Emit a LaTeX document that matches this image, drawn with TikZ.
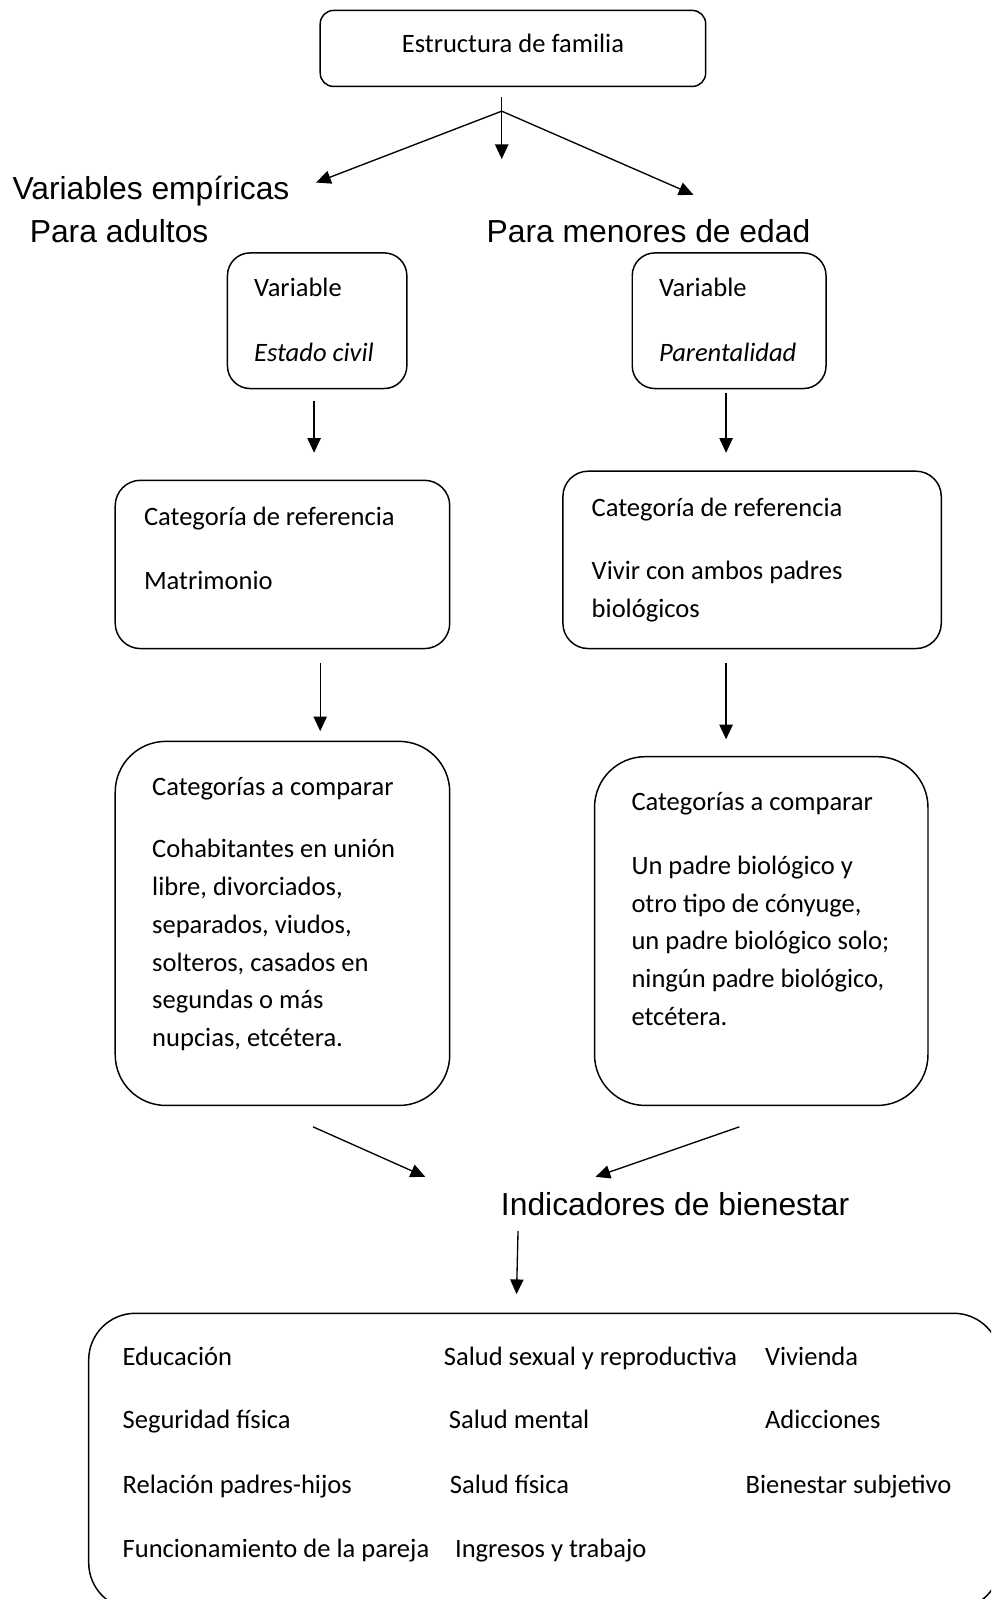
\documentclass[tikz,border=0pt]{standalone}
\usepackage{fontspec}
\setmainfont{Carlito}
\newfontfamily\arialf{Liberation Sans}
\usetikzlibrary{arrows.meta}

\begin{document}
\begin{tikzpicture}[x=0.7646pt,y=-0.7646pt,
  caja/.style={draw,line width=1.1pt,inner sep=0pt},
  txt/.style={anchor=west,inner sep=0pt,text height=0.64em,text depth=0pt,yshift=-3.8pt,font=\fontsize{19.9}{28.3}\selectfont},
  parr/.style={anchor=north west,inner sep=0pt,align=left,font=\fontsize{19.9}{28.3}\selectfont},
  grande/.style={anchor=west,inner sep=0pt,text height=0.72em,text depth=0pt,yshift=-5.2pt,font=\arialf\fontsize{23.85}{28}\selectfont},
  flecha/.style={line width=1pt,-{Triangle[length=11pt,width=10pt]}}]
\useasboundingbox (0,0) rectangle (972,1568);
\clip (0,0) rectangle (972,1568);

% cajas
\node [caja,rounded corners=10pt,minimum width=289pt,minimum height=57pt] (fam) at (503,47.5) {};
\node [caja,rounded corners=17pt,minimum width=134.5pt,minimum height=101.7pt] (varA) at (311,314.5) {};
\node [caja,rounded corners=17pt,minimum width=145.3pt,minimum height=101.7pt] (varM) at (715,314.5) {};
\node [caja,rounded corners=19pt,minimum width=250.8pt,minimum height=126.2pt] (refA) at (277,553.5) {};
\node [caja,rounded corners=19pt,minimum width=283.7pt,minimum height=133pt] (refM) at (737.5,549) {};
\node [caja,rounded corners=38pt,minimum width=250.8pt,minimum height=273pt] (compA) at (277,905.5) {};
\node [caja,rounded corners=38pt,minimum width=250pt,minimum height=261.5pt] (compM) at (746.5,913) {};
\node [caja,rounded corners=35pt,minimum width=683.6pt,minimum height=222pt] (ind) at (534,1433) {};

% textos
\node [txt,anchor=center] (tfam) at (503,42) {Estructura de familia};
\node [grande] (tvar) at (12,184) {Variables empíricas};
\node [grande] (tadu) at (29,226) {Para adultos};
\node [grande] (tmen) at (477,226) {Para menores de edad};
\node [grande] (tind) at (491,1180) {Indicadores de bienestar};

\node [txt] (vA1) at (249,282) {Variable};
\node [txt] (vA2) at (249,345) {\itshape Estado civil};
\node [txt] (vM1) at (646,282) {Variable};
\node [txt] (vM2) at (646,345) {\itshape Parentalidad};

\node [txt] (rA1) at (141,506) {Categoría de referencia};
\node [txt] (rA2) at (141,569) {Matrimonio};
\node [txt] (rM1) at (580,497) {Categoría de referencia};
\node [parr] (rM2) at (580,550) {Vivir con ambos padres\\biológicos};

\node [txt] (cA1) at (149,771) {Categorías a comparar};
\node [parr] (cA2) at (149,823) {Cohabitantes en unión\\libre, divorciados,\\separados, viudos,\\solteros, casados en\\segundas o más\\nupcias, etcétera.};
\node [txt] (cM1) at (619,786) {Categorías a comparar};
\node [parr] (cM2) at (619,839) {Un padre biológico y\\otro tipo de cónyuge,\\un padre biológico solo;\\ningún padre biológico,\\etcétera.};

\node [txt] (i1) at (120,1330) {Educación};
\node [txt] (i2) at (435,1330) {Salud sexual y reproductiva};
\node [txt] (i3) at (750,1330) {Vivienda};
\node [txt] (i4) at (120,1392) {Seguridad física};
\node [txt] (i5) at (440,1392) {Salud mental};
\node [txt] (i6) at (750,1392) {Adicciones};
\node [txt] (i7) at (120,1455) {Relación padres-hijos};
\node [txt] (i8) at (441,1455) {Salud física};
\node [txt] (i9) at (731,1455) {Bienestar subjetivo};
\node [txt] (i10) at (120,1518) {Funcionamiento de la pareja};
\node [txt] (i11) at (446,1518) {Ingresos y trabajo};

% puntos de las flechas
\coordinate (raiz) at (492,95);
\coordinate (nudo) at (492,109);
\coordinate (pC) at (492,156);
\coordinate (pA) at (310,179);
\coordinate (pM) at (680,191);
\coordinate (a1) at (308,393);
\coordinate (a2) at (308,444);
\coordinate (m1) at (712,385);
\coordinate (m2) at (712,444);
\coordinate (a3) at (314,650);
\coordinate (a4) at (314,717);
\coordinate (m3) at (712,650);
\coordinate (m4) at (712,725);
\coordinate (a5) at (307,1105);
\coordinate (m5) at (725,1105);
\coordinate (b1) at (417,1154);
\coordinate (b2) at (584,1154);
\coordinate (b3) at (508,1207);
\coordinate (b4) at (506.5,1269);

\draw [flecha] (raiz) -- (pC);
\draw [flecha] (nudo) -- (pA);
\draw [flecha] (nudo) -- (pM);
\draw [flecha] (a1) -- (a2);
\draw [flecha] (m1) -- (m2);
\draw [flecha] (a3) -- (a4);
\draw [flecha] (m3) -- (m4);
\draw [flecha] (a5) -- (b1);
\draw [flecha] (m5) -- (b2);
\draw [flecha] (b3) -- (b4);
\end{tikzpicture}
\end{document}
